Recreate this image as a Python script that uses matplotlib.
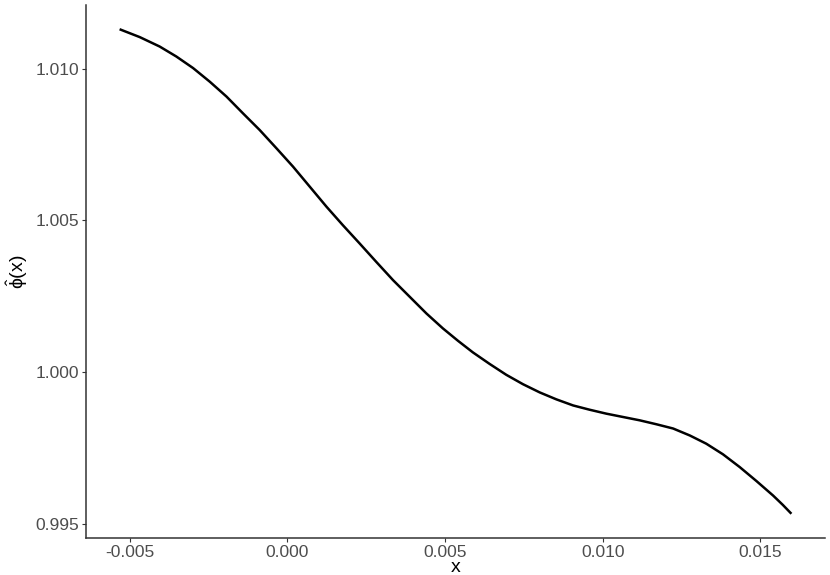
#!/usr/bin/env python

import numpy as np
import matplotlib
matplotlib.use("Agg")
import matplotlib.pyplot as plt

# values
x_vals = np.array([-0.00532, -0.00468, -0.00405, -0.00352, -0.00299, -0.00246,
	-0.00193, -0.00141, -0.00088, -0.00035, 0.00018, 0.00071, 0.00124,
	0.00176, 0.00229, 0.00282, 0.00335, 0.00388, 0.00441, 0.00493,
	0.00541, 0.00588, 0.00641, 0.00694, 0.00747, 0.00800, 0.00853,
	0.00906, 0.00958, 0.01011, 0.01064, 0.01117, 0.01170, 0.01223,
	0.01276, 0.01328, 0.01381, 0.01434, 0.01487, 0.01540, 0.01571,
	0.01598])
phi_vals = np.array([1.01130, 1.01104, 1.01073, 1.01040, 1.01002, 1.00957,
	1.00908, 1.00853, 1.00798, 1.00738, 1.00677, 1.00611, 1.00545,
	1.00484, 1.00424, 1.00363, 1.00303, 1.00248, 1.00193, 1.00144,
	1.00103, 1.00065, 1.00027, 0.99991, 0.99960, 0.99933, 0.99910,
	0.99890, 0.99876, 0.99863, 0.99852, 0.99841, 0.99828, 0.99814,
	0.99791, 0.99764, 0.99729, 0.99687, 0.99641, 0.99593, 0.99562,
	0.99533])

x_ticks = [-0.005, 0.000, 0.005, 0.010, 0.015]
y_ticks = [0.995, 1.000, 1.005, 1.010]

plt.rcParams['font.family'] = ['Liberation Sans', 'DejaVu Sans']
plt.rcParams['mathtext.fontset'] = 'custom'
plt.rcParams['mathtext.rm'] = 'Liberation Sans'
plt.rcParams['mathtext.it'] = 'Liberation Sans:italic'

fig = plt.figure(figsize=(8.3, 5.75), dpi=100)
ax = fig.add_axes([86/830., 37/575., 739/830., 533/575.])

ax.plot(x_vals, phi_vals, color='black', lw=1.8, solid_capstyle='butt',
	solid_joinstyle='round')

# ggplot style 5% expansion
def expand(lo, hi, f=0.05):
	w = hi - lo
	return lo - f*w, hi + f*w

ax.set_xlim(expand(x_vals.min(), x_vals.max()))
ax.set_ylim(expand(phi_vals.min(), phi_vals.max()))

ax.set_xticks(x_ticks)
ax.set_xticklabels(['%.3f' % v for v in x_ticks])
ax.set_yticks(y_ticks)
ax.set_yticklabels(['%.3f' % v for v in y_ticks])

for side in ['top', 'right']:
	ax.spines[side].set_visible(False)
for side in ['left', 'bottom']:
	ax.spines[side].set_color('#333333')
	ax.spines[side].set_linewidth(1.1)

ax.tick_params(axis='both', length=3, width=0.8, color='#333333',
	labelcolor='#4d4d4d', labelsize=12.5, pad=2)

ax.set_xlabel('x', fontsize=14, labelpad=-1)
ax.set_ylabel(r'$\hat{\mathrm{\phi}}\mathrm{(x)}$', fontsize=14, labelpad=4)

fig.savefig('out.png', dpi=100)
